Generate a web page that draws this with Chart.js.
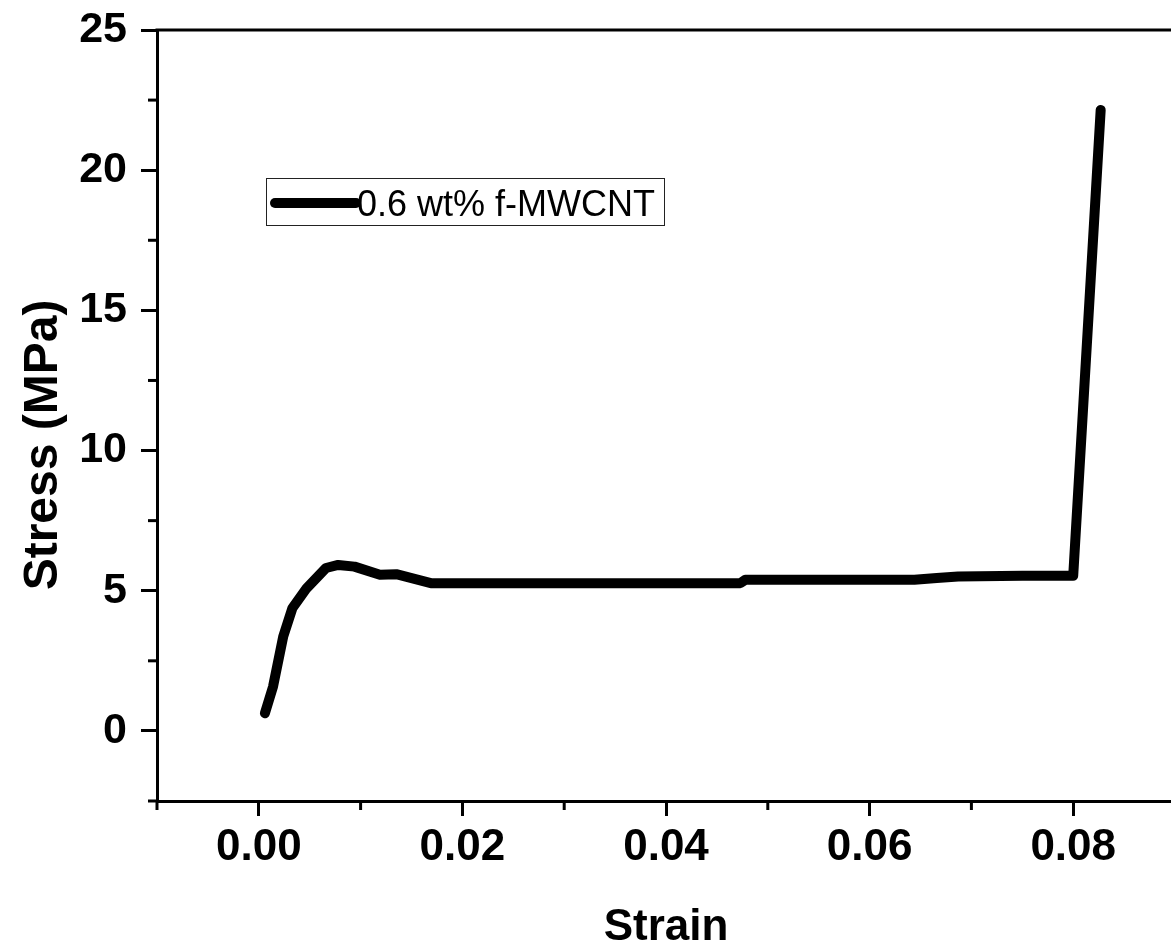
<!DOCTYPE html>
<html>
<head>
<meta charset="utf-8">
<script src="https://cdn.jsdelivr.net/npm/chart.js@4.4.0/dist/chart.umd.min.js"></script>
<style>
  html, body { margin: 0; padding: 0; background: #fff; overflow: hidden; }
  canvas { display: block; }
</style>
</head>
<body>
<canvas id="stressChart" width="1180" height="951"></canvas>
<script>
// values
const strain = [0.0006, 0.0014, 0.0024, 0.0033, 0.0047, 0.0066, 0.0078, 0.0094, 0.0119, 0.0135,
  0.0169, 0.0200, 0.0300, 0.0400, 0.0473, 0.0478, 0.0550, 0.0644, 0.0666, 0.0687, 0.0750, 0.0800, 0.0827];
const stress = [0.63, 1.58, 3.37, 4.38, 5.09, 5.81, 5.92, 5.86, 5.57, 5.59,
  5.27, 5.27, 5.27, 5.27, 5.27, 5.39, 5.39, 5.39, 5.45, 5.51, 5.53, 5.53, 22.15];
const seriesLabel = "0.6 wt% f-MWCNT";
const xTitle = "Strain";
const yTitle = "Stress (MPa)";

const xMajor = [0, 0.02, 0.04, 0.06, 0.08];
const xTickLabels = ["0.00", "0.02", "0.04", "0.06", "0.08"];
const xMinor = [-0.01, 0.01, 0.03, 0.05, 0.07, 0.09];
const yMajor = [0, 5, 10, 15, 20, 25];
const yTickLabels = ["0", "5", "10", "15", "20", "25"];
const yMinor = [-2.5, 2.5, 7.5, 12.5, 17.5, 22.5];

Chart.defaults.font.family = "'Liberation Sans', Arial, sans-serif";
Chart.defaults.color = "#000";

// minor ticks, top frame line and the y title (sits a bit below centre in the original)
const frame = {
  id: "frame",
  afterDraw(chart) {
    const { ctx, chartArea: a, scales } = chart;
    ctx.save();
    ctx.strokeStyle = "#000";
    ctx.lineWidth = 3;
    ctx.beginPath();
    ctx.moveTo(a.left - 1.5, a.top);
    ctx.lineTo(a.right, a.top);
    ctx.stroke();
    xMinor.forEach(v => {
      const px = scales.x.getPixelForValue(v);
      ctx.beginPath();
      ctx.moveTo(px, a.bottom);
      ctx.lineTo(px, a.bottom + 9);
      ctx.stroke();
    });
    yMinor.forEach(v => {
      const py = scales.y.getPixelForValue(v);
      ctx.beginPath();
      ctx.moveTo(a.left - 9, py);
      ctx.lineTo(a.left, py);
      ctx.stroke();
    });
    ctx.translate(44, scales.y.getPixelForValue(10.2));
    ctx.rotate(-Math.PI / 2);
    ctx.fillStyle = "#000";
    ctx.font = "bold 48px 'Liberation Sans', Arial, sans-serif";
    ctx.textAlign = "center";
    ctx.textBaseline = "middle";
    ctx.fillText(yTitle, 0, 0);
    ctx.restore();
  }
};

// legend box inside the plot
const insideLegend = {
  id: "insideLegend",
  afterDraw(chart) {
    const { ctx, chartArea: a } = chart;
    const ds = chart.data.datasets[0];
    const bx = a.left + 109, by = a.top + 148, bw = 398, bh = 47;
    ctx.save();
    ctx.fillStyle = "#fff";
    ctx.fillRect(bx, by, bw, bh);
    ctx.strokeStyle = "#222";
    ctx.lineWidth = 1;
    ctx.strokeRect(bx + 0.5, by + 0.5, bw, bh);
    ctx.strokeStyle = ds.borderColor;
    ctx.lineWidth = ds.borderWidth;
    ctx.lineCap = "round";
    ctx.beginPath();
    ctx.moveTo(bx + 9, by + 25);
    ctx.lineTo(bx + 90, by + 25);
    ctx.stroke();
    ctx.fillStyle = "#000";
    ctx.font = "36px 'Liberation Sans', Arial, sans-serif";
    ctx.textBaseline = "alphabetic";
    ctx.fillText(ds.label, bx + 91, by + 38);
    ctx.restore();
  }
};

new Chart(document.getElementById("stressChart"), {
  type: "line",
  data: {
    datasets: [{
      label: seriesLabel,
      data: strain.map((x, i) => ({ x: x, y: stress[i] })),
      borderColor: "#000",
      borderWidth: 10,
      borderCapStyle: "round",
      borderJoinStyle: "round",
      pointRadius: 0,
      tension: 0,
      fill: false
    }]
  },
  options: {
    responsive: false,
    animation: false,
    layout: { padding: { top: 30, right: 5, left: 0, bottom: 0 } },
    plugins: { legend: { display: false }, tooltip: { enabled: false } },
    scales: {
      x: {
        type: "linear",
        min: -0.01,
        max: 0.09,
        afterBuildTicks: s => { s.ticks = xMajor.map(v => ({ value: v })); },
        afterFit: s => { s.height = 150; s.paddingLeft = 0; s.paddingRight = 0; },
        ticks: {
          autoSkip: false,
          maxRotation: 0,
          padding: 5,
          font: { size: 44, weight: "bold" },
          callback: (v, i) => xTickLabels[i]
        },
        grid: { drawOnChartArea: false, tickLength: 15, lineWidth: 3, color: "#000" },
        border: { width: 3, color: "#000" },
        title: {
          display: true,
          text: xTitle,
          font: { size: 44, weight: "bold", lineHeight: 1 },
          padding: { top: 0, bottom: 1 }
        }
      },
      y: {
        type: "linear",
        min: -2.5,
        max: 25,
        afterBuildTicks: s => { s.ticks = yMajor.map(v => ({ value: v })); },
        afterFit: s => { s.width = 157; s.paddingTop = 0; s.paddingBottom = 0; },
        ticks: {
          autoSkip: false,
          padding: 14,
          font: { size: 43, weight: "bold" },
          callback: (v, i) => yTickLabels[i]
        },
        grid: { drawOnChartArea: false, tickLength: 16, lineWidth: 3, color: "#000" },
        border: { width: 3, color: "#000" }
      }
    }
  },
  plugins: [frame, insideLegend]
});
</script>
</body>
</html>
